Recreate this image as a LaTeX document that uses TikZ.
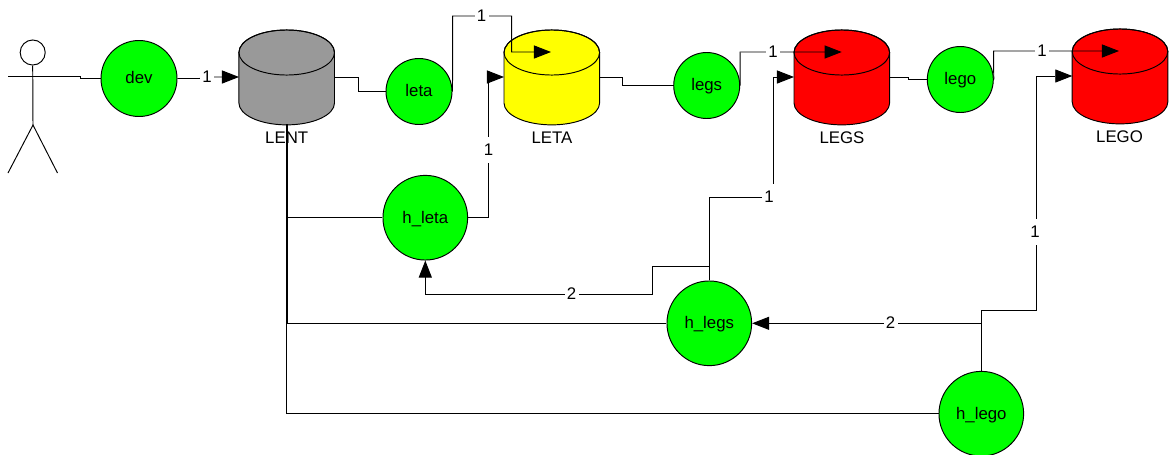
\documentclass[tikz,border=0pt]{standalone}
\usepackage{fontspec}
\setmainfont{Liberation Sans}
\usetikzlibrary{arrows.meta}
\definecolor{dbgray}{RGB}{153,153,153}
\definecolor{puregreen}{RGB}{0,255,0}
\definecolor{purered}{RGB}{255,0,0}
\definecolor{pureyellow}{RGB}{255,255,0}
\tikzset{
  x=0.75pt,y=-0.75pt,
  line/.style={draw=black,line width=0.72pt},
  heavyline/.style={draw=black,line width=0.95pt},
  txt/.style={font=\fontsize{12.6pt}{14pt}\selectfont,text=black},
  proc/.style={circle,draw=black,line width=0.72pt,fill=puregreen,inner sep=0pt,txt,text height=9.2pt,text depth=1pt},
  devproc/.style={proc,minimum size=57pt},
  small/.style={proc,minimum size=49.5pt},
  big/.style={proc,minimum size=63.5pt},
  db/.style={rectangle,minimum width=71.7pt,minimum height=71.3pt,inner sep=0pt,outer sep=0pt},
  dbshape/.style={draw=black,line width=0.72pt},
  dblabel/.style={txt,inner sep=0pt},
  num/.style={txt,fill=white,inner sep=0pt,minimum width=10.5pt,minimum height=19pt},
  arr/.style={line,-{Triangle[length=12.8pt,width=9.8pt,fill=black]}}
}
\newcommand{\dbdraw}[4]{% name, x, y, colour
  \node[db] (#1) at (#2,#3) {};
  \begin{scope}[shift={(#1.center)}]
    \draw[dbshape,fill=#4] (-47.8,-24) -- (-47.8,26.5)
      arc[start angle=180,end angle=360,x radius=35.85pt,y radius=16.4pt]
      -- (47.8,-24)
      arc[start angle=0,end angle=180,x radius=35.85pt,y radius=16.9pt] -- cycle;
    \draw[dbshape] (0,-24) ellipse [x radius=35.85pt,y radius=16.9pt];
  \end{scope}
}
\begin{document}
\begin{tikzpicture}
\useasboundingbox (0,0) rectangle (1169,454);
% actor
\node[circle,draw=black,line width=0.72pt,fill=white,minimum size=18.8pt,inner sep=0pt] (head) at (32.7,52.5) {};
\coordinate (hip) at (33,125);
\coordinate (lfoot) at (8,173);
\coordinate (rfoot) at (57.5,173);
\coordinate (lhand) at (8,76.7);
\draw[line] (head.south) -- (hip);
\draw[line] (lfoot) -- (hip) -- (rfoot);
% data stores
\dbdraw{lent}{286.7}{76.5}{dbgray}
\dbdraw{letaS}{551.8}{76.5}{pureyellow}
\dbdraw{legsS}{841.8}{76.5}{purered}
\dbdraw{legoS}{1120}{75.5}{purered}
\node[dblabel] (lentL) at (286.7,138) {LENT};
\node[dblabel] (letaL) at (552,138) {LETA};
\node[dblabel] (legsL) at (842,138) {LEGS};
\node[dblabel] (legoL) at (1119.5,137) {LEGO};
% processes
\node[devproc] (dev) at (139,78.5) {dev};
\node[small] (leta) at (419,91.5) {leta};
\node[small] (legs) at (706.7,85.5) {legs};
\node[small] (lego) at (960.3,79.5) {lego};
\node[big] (hleta) at (425.3,217.7) {h\_leta};
\node[big] (hlegs) at (709.3,323.3) {h\_legs};
\node[big] (hlego) at (981.3,413.7) {h\_lego};
% ports on the stores
\coordinate (lentR) at (334.6,77);
\coordinate (lentL2) at (239,77);
\coordinate (lentB) at (286.9,124);
\coordinate (letaR) at (599.7,77);
\coordinate (letaL2) at (504,77);
\coordinate (letaT) at (551,52);
\coordinate (legsR) at (889.7,77);
\coordinate (legsL2) at (794,77);
\coordinate (legsT) at (841.7,52);
\coordinate (legoL2) at (1072.3,76);
\coordinate (legoT) at (1119,51);
% connectors
\draw[line] (lhand) -- (80,76.7) -- (80,78.5) -- (dev.west);
\draw[arr] (dev.east) -- (200,78.5) -- (201,77) -- (lentL2);
\draw[line] (lentR) -- (358,77) -- (358,91.5) -- (leta.west);
\draw[arr] (leta.east) -- (452.7,16) -- (511.7,16) -- (511.7,52) -- (letaT);
\draw[line] (letaR) -- (622,77) -- (622,85.5) -- (legs.west);
\draw[arr] (legs.east) -- (740,52) -- (legsT);
\draw[line] (legsR) -- (908,77) -- (908,79.5) -- (lego.west);
\draw[arr] (lego.east) -- (993.5,51) -- (legoT);
\draw[line] (286.9,323.3) -- (286.9,413.7) -- (hlego.west);
\draw[heavyline] (lentB) -- (286.9,323.3);
\draw[line] (286.9,217.7) -- (hleta.west);
\draw[line] (286.9,323.3) -- (hlegs.west);
\draw[arr] (hleta.east) -- (488.7,217.7) -- (488.7,77) -- (letaL2);
\draw[arr] (hlegs.north) -- (709.3,197) -- (773,197) -- (773,77) -- (legsL2);
\draw[arr] (709.3,266.3) -- (652,266.3) -- (652,294) -- (425.3,294) -- (hleta.south);
\draw[arr] (hlego.north) -- (981.3,310.3) -- (1036,310.3) -- (1036,76) -- (legoL2);
\draw[arr] (981.3,323.3) -- (hlegs.east);
% connector labels
\node[num] (n1) at (207,76.5) {1};
\node[num] (n2) at (481.5,15.5) {1};
\node[num] (n3) at (488.5,150) {1};
\node[num] (n4) at (773,52) {1};
\node[num] (n5) at (769,197) {1};
\node[num] (n6) at (1042,51) {1};
\node[num] (n7) at (1035,232) {1};
\node[num] (n8) at (571.5,293.5) {2};
\node[num] (n9) at (890.5,323) {2};
\end{tikzpicture}
\end{document}
